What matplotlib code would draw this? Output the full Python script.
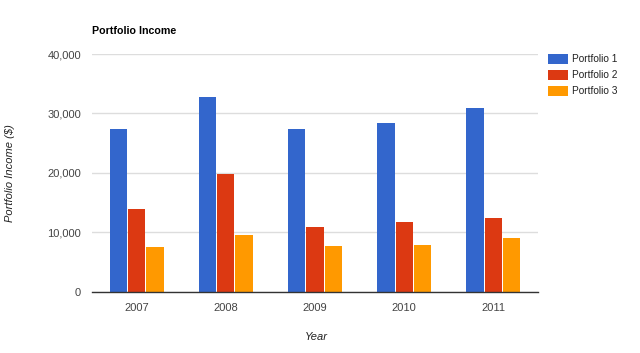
import matplotlib
matplotlib.use("Agg")
import matplotlib.pyplot as plt
import numpy as np
from matplotlib.patches import Rectangle

years = ["2007", "2008", "2009", "2010", "2011"]
seriesNames = ["Portfolio 1", "Portfolio 2", "Portfolio 3"]
portfolio1 = [27450, 32800, 27350, 28450, 30900]
portfolio2 = [13900, 19800, 10850, 11700, 12400]
portfolio3 = [7500, 9550, 7650, 7850, 9050]
yTicks = [0, 10000, 20000, 30000, 40000]

colors = ["#3366cc", "#dc3912", "#ff9900"]

plt.rcParams["font.family"] = ["Liberation Sans", "DejaVu Sans"]

fig = plt.figure(figsize=(6.4, 3.53), dpi=100)
ax = fig.add_axes([92 / 640, 1 - 291.7 / 353, 446 / 640, (291.7 - 54) / 353])

xPos = np.arange(len(years))
barWidth = 0.205
for i, (values, name) in enumerate(zip([portfolio1, portfolio2, portfolio3], seriesNames)):
    ax.bar(xPos + (i - 1) * barWidth, values, width=barWidth - 0.01, color=colors[i],
           label=name, zorder=3, linewidth=0)

ax.set_xlim(-0.5, len(years) - 0.5)
ax.set_ylim(0, 40000)
ax.set_yticks(yTicks)
ax.set_yticklabels([f"{v:,}" for v in yTicks])
ax.set_xticks(xPos)
ax.set_xticklabels(years)
ax.tick_params(axis="both", length=0, labelsize=8, colors="#444444", pad=8)
ax.tick_params(axis="x", pad=8)
ax.yaxis.grid(True, color="#dddddd", linewidth=1, zorder=0)
for side in ["top", "right", "left"]:
    ax.spines[side].set_visible(False)
ax.spines["bottom"].set_color("#333333")
ax.spines["bottom"].set_linewidth(1)
ax.spines["bottom"].set_zorder(4)

fig.text(92 / 640, 1 - 31 / 353, "Portfolio Income", fontsize=7.7, fontweight="bold",
         color="#000000", ha="left", va="center")
fig.text(10 / 640, 1 - 173 / 353, "Portfolio Income ($)", fontsize=8, style="italic",
         color="#222222", rotation=90, ha="center", va="center")
fig.text(316 / 640, 1 - 337 / 353, "Year", fontsize=8, style="italic",
         color="#222222", ha="center", va="center")

# legend drawn by hand to match the swatch layout
for i, name in enumerate(seriesNames):
    yCenter = 1 - (59 + 16 * i) / 353
    fig.patches.append(Rectangle((548 / 640, yCenter - 5 / 353), 20 / 640, 10 / 353,
                                 transform=fig.transFigure, facecolor=colors[i],
                                 edgecolor="none"))
    fig.text(572 / 640, yCenter, name, fontsize=7.3, color="#222222", ha="left", va="center")

fig.savefig("out.png", dpi=100)
